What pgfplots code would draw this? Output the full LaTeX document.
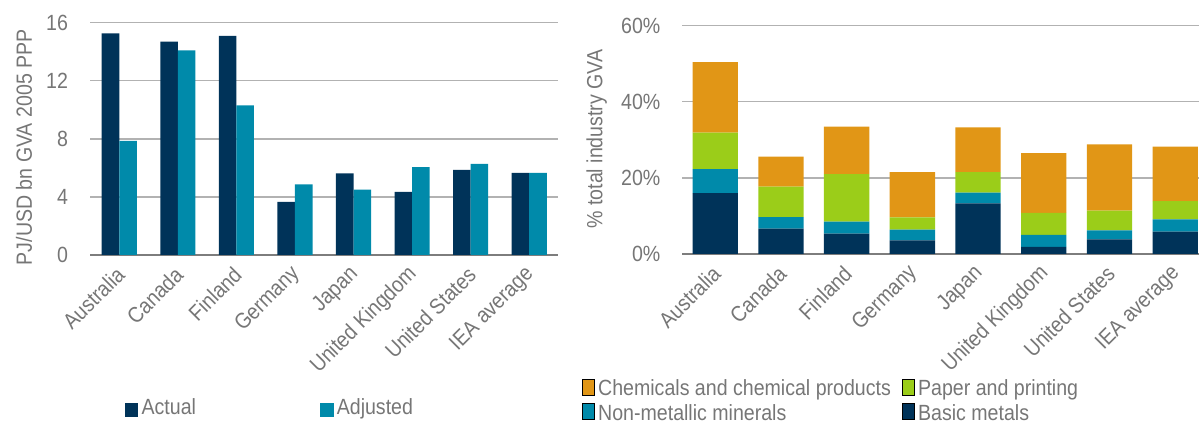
\documentclass[border=0pt]{standalone}
\usepackage{fontspec}
\setmainfont{Liberation Sans}[FakeStretch=0.89]
\usepackage{pgfplots}
\pgfplotsset{compat=1.18}
\definecolor{ieanavy}{RGB}{0,51,89}
\definecolor{ieateal}{RGB}{0,138,170}
\definecolor{ieaorange}{RGB}{225,150,22}
\definecolor{ieagreen}{RGB}{155,205,25}
\definecolor{txtgray}{RGB}{118,118,118}
\definecolor{gridgray}{RGB}{178,178,178}
\definecolor{axgray}{RGB}{125,125,125}

\pgfplotsset{
  ieabase/.style={
    scale only axis,
    font=\fontsize{11}{13}\selectfont,
    axis x line*=bottom, axis y line*=left,
    y axis line style={draw=none},
    x axis line style={draw=axgray, line width=1pt, -},
    major tick length=0pt,
    ymajorgrids, grid style={gridgray, line width=0.7pt},
    tick label style={text=txtgray},
    label style={text=txtgray},
    xtick={0,1,2,3,4,5,6,7},
    xticklabels={Australia,Canada,Finland,Germany,Japan,United Kingdom,United States,IEA average},
    xticklabel style={anchor=east, xshift=3.1pt, yshift=-5.6pt, rotate=45},
    yticklabel style={xshift=-7.5pt},
    /pgf/number format/assume math mode=true,
    legend image code/.code={\fill[##1] (0pt,-3.3pt) rectangle (6.7pt,3.3pt);},
    legend style={draw=none, fill=none, inner sep=0pt, outer sep=0pt, row sep=0pt,
      font=\fontsize{11}{13}\selectfont, text=txtgray,
      nodes={inner xsep=1.6pt, inner ysep=0pt, text height=8.3pt, text depth=3.7pt}},
    legend cell align=left,
  }
}

\pgfplotstableread{
x actual adjusted
0 15.26 7.86
1 14.69 14.09
2 15.10 10.30
3 3.66 4.87
4 5.63 4.50
5 4.34 6.05
6 5.86 6.28
7 5.65 5.65
}\energy

\pgfplotstableread{
x basic nonmet paper chem
0 16.0 6.3 9.6 18.5
1 6.66 3.04 8.0 7.9
2 5.34 3.16 12.5 12.5
3 3.6 2.8 3.2 11.9
4 13.3 2.8 5.4 11.8
5 1.9 3.1 5.8 15.7
6 3.85 2.35 5.2 17.4
7 5.87 3.23 4.8 14.3
}\shares

\begin{document}
\begin{tikzpicture}
\useasboundingbox (0,0) rectangle (599.5pt,211pt);
% left chart
\begin{axis}[ieabase,
  at={(45pt,83.5pt)}, anchor=south west,
  width=234.25pt, height=116.15pt,
  xmin=-0.5, xmax=7.5, ymin=0, ymax=16,
  ytick={0,4,8,12,16},
  ylabel={PJ/USD bn GVA 2005 PPP},
  ylabel style={at={(axis description cs:-0.141,0.4636)}, anchor=center},
  legend columns=2,
  legend style={at={(axis description cs:0.0747,-0.667)}, anchor=west,
    /tikz/every even column/.append style={column sep=60.5pt}},
]
\addplot[ybar, bar width=0.3, bar shift=-0.15, fill=ieanavy, draw=none] table[x=x, y=actual] {\energy};
\addlegendentry{Actual}
\addplot[ybar, bar width=0.3, bar shift=0.15, fill=ieateal, draw=none] table[x=x, y=adjusted] {\energy};
\addlegendentry{Adjusted}
\end{axis}
% right chart
\begin{axis}[ieabase,
  at={(341.2pt,84pt)}, anchor=south west,
  width=258.3pt, height=114.15pt,
  xmin=-0.5, xmax=7.363, ymin=0, ymax=60,
  ytick={0,20,40,60},
  yticklabel={\pgfmathprintnumber{\tick}\%},
  ylabel={\% total industry GVA},
  ylabel style={at={(axis description cs:-0.166,0.504)}, anchor=center},
  ybar stacked, bar width=0.69,
  legend columns=2,
  reverse legend,
  legend style={at={(axis description cs:-0.194,-0.654)}, anchor=west,
    /tikz/every even column/.append style={column sep=4pt}},
]
\addplot[fill=ieanavy, draw=none] table[x=x, y=basic] {\shares};
\addlegendentry{Basic metals}
\addplot[fill=ieateal, draw=none] table[x=x, y=nonmet] {\shares};
\addlegendentry{Non-metallic minerals}
\addplot[fill=ieagreen, draw=none] table[x=x, y=paper] {\shares};
\addlegendentry{Paper and printing}
\addplot[fill=ieaorange, draw=none] table[x=x, y=chem] {\shares};
\addlegendentry{Chemicals and chemical products}
\end{axis}
\end{tikzpicture}
\end{document}
